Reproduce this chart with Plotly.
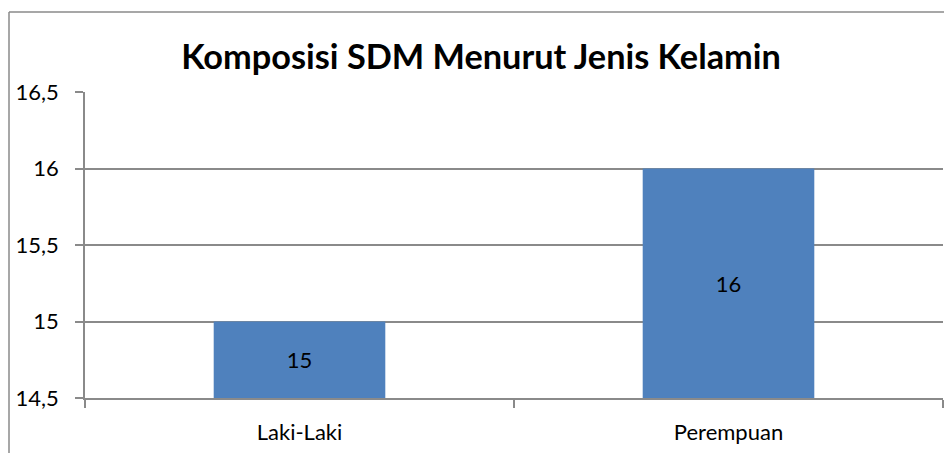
import plotly.graph_objects as go

categories = ["Laki-Laki", "Perempuan"]
values = [15, 16]
value_labels = ["15", "16"]
title_text = "Komposisi SDM Menurut Jenis Kelamin"
axis_min = 14.5
axis_max = 16.5

W, H = 944, 453
L, R, T, B = 85, 1, 92, 55
pw = W - L - R
ph = H - T - B

def px_x(x):
    return (x - L) / pw

def px_y(y):
    return 1 - (y - T) / ph

fig = go.Figure(go.Bar(
    x=categories, y=[v - axis_min for v in values], base=axis_min,
    marker=dict(color="#4F81BD", line=dict(width=0)),
    text=value_labels, textposition="inside", insidetextanchor="middle",
    textfont=dict(family="Lato", size=22, color="#000000"),
    hoverinfo="skip",
))

gray = "#8A8A8A"
fig.update_layout(
    width=W, height=H,
    margin=dict(l=L, r=R, t=T, b=B),
    paper_bgcolor="white", plot_bgcolor="white",
    separators=",.",
    bargap=0.6,
    showlegend=False,
    title=dict(text="<b>" + title_text + "</b>", x=481 / W, xanchor="center",
               y=1 - 57 / H, yanchor="middle",
               font=dict(family="Lato", size=34.3, color="#000000")),
    font=dict(family="Lato", size=22, color="#000000"),
    shapes=[
        dict(type="line", xref="paper", yref="paper",
             x0=px_x(9), x1=px_x(9), y0=px_y(12), y1=px_y(H + 5),
             line=dict(color=gray, width=1.5)),
        dict(type="line", xref="paper", yref="paper",
             x0=px_x(9), x1=px_x(W + 5), y0=px_y(12), y1=px_y(12),
             line=dict(color=gray, width=1.5)),
    ],
)
fig.update_yaxes(
    range=[axis_min, axis_max], dtick=0.5, tick0=axis_min,
    showgrid=True, gridcolor=gray, gridwidth=1.5,
    showline=True, linecolor=gray, linewidth=1.5,
    ticks="outside", ticklen=8, tickcolor=gray, tickwidth=1.5,
    zeroline=False, tickfont=dict(size=22), ticklabelstandoff=12,
)
fig.update_xaxes(
    showline=True, linecolor=gray, linewidth=1.5,
    ticks="outside", ticklen=8, tickcolor=gray, tickwidth=1.5,
    tickson="boundaries", showgrid=False, tickfont=dict(size=22),
    ticklabelstandoff=14,
)

fig.write_html("out.html", config={"displayModeBar": False},
               post_script="document.body.style.margin='0';")
